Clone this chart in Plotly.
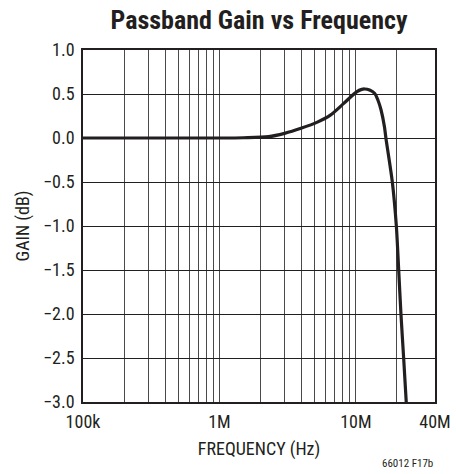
import math
import plotly.graph_objects as go

# Data
freq_hz = [1e5, 2e5, 5e5, 1e6, 1.5e6, 2.29e6, 3.0e6, 3.96e6, 5.22e6, 6.5e6, 8.11e6,
           10.12e6, 11.04e6, 11.6e6, 12.6e6, 13.7e6, 14.5e6, 15.3e6, 16.2e6, 16.6e6,
           18.5e6, 19.8e6, 20.6e6, 21.4e6, 22.4e6, 23.4e6]
gain_db = [0.0, 0.0, 0.0, 0.0, 0.003, 0.015, 0.053, 0.11, 0.18, 0.26, 0.39,
           0.525, 0.553, 0.557, 0.545, 0.508, 0.432, 0.318, 0.128, 0.0,
           -0.5, -1.0, -1.5, -2.0, -2.5, -3.0]

x_max = 10 ** 7.58  # right edge labelled "40M"
x_tick_vals = [1e5, 1e6, 1e7, x_max]
x_tick_text = ["100k", "1M", "10M", "40M"]
y_tick_vals = [1.0, 0.5, 0.0, -0.5, -1.0, -1.5, -2.0, -2.5, -3.0]
y_tick_text = ["1.0", "0.5", "0.0", "\u22120.5", "\u22121.0", "\u22121.5", "\u22122.0", "\u22122.5", "\u22123.0"]

grid_vals = [m * 10 ** e for e in (5, 6) for m in range(1, 10)] + [1e7, 2e7, x_max]
grid_text = [x_tick_text[x_tick_vals.index(v)] if v in x_tick_vals else "" for v in grid_vals]

FONT = "Roboto Condensed, Liberation Sans Narrow, Arial Narrow, Liberation Sans, sans-serif"
INK = "#231f20"

fig = go.Figure()
fig.add_trace(go.Scatter(x=freq_hz, y=gain_db, mode="lines",
                         line=dict(color=INK, width=3.2, shape="spline", smoothing=0.8),
                         showlegend=False, hoverinfo="skip"))

fig.update_layout(
    width=456, height=474,
    margin=dict(l=83, r=21, t=50, b=72, autoexpand=False),
    paper_bgcolor="white", plot_bgcolor="white",
    font=dict(family=FONT, color=INK),
    title=dict(text="<b>Passband Gain vs Frequency</b>", x=0.568, xanchor="center",
               y=0.958, yanchor="middle", font=dict(size=26, family=FONT, color=INK)),
)
fig.update_xaxes(type="log", range=[5, math.log10(x_max)], tickvals=grid_vals, ticktext=grid_text,
                 showgrid=True, gridcolor="#4a4a4a", gridwidth=1, automargin=False,
                 showline=True, linecolor=INK, linewidth=1.5, mirror=True,
                 ticks="", tickfont=dict(size=18), zeroline=False, ticklabelstandoff=3,
                 title=dict(text="FREQUENCY (Hz)", font=dict(size=18), standoff=11))
fig.update_yaxes(range=[-3, 1], tickvals=y_tick_vals, ticktext=y_tick_text,
                 showgrid=True, gridcolor=INK, gridwidth=1, automargin=False,
                 showline=True, linecolor=INK, linewidth=1.5, mirror=True,
                 ticks="", tickfont=dict(size=18), zeroline=False, ticklabelstandoff=3,
                 title=dict(text="GAIN (dB)", font=dict(size=18), standoff=9))
fig.add_annotation(text="66012 F17b", xref="paper", yref="paper", x=1.0, y=-0.176,
                   xanchor="right", yanchor="middle", showarrow=False,
                   font=dict(size=11, family=FONT, color=INK))

fig.write_html("out.html", config={"displayModeBar": False},
               post_script="document.body.style.margin='0px';document.body.style.overflow='hidden';")
